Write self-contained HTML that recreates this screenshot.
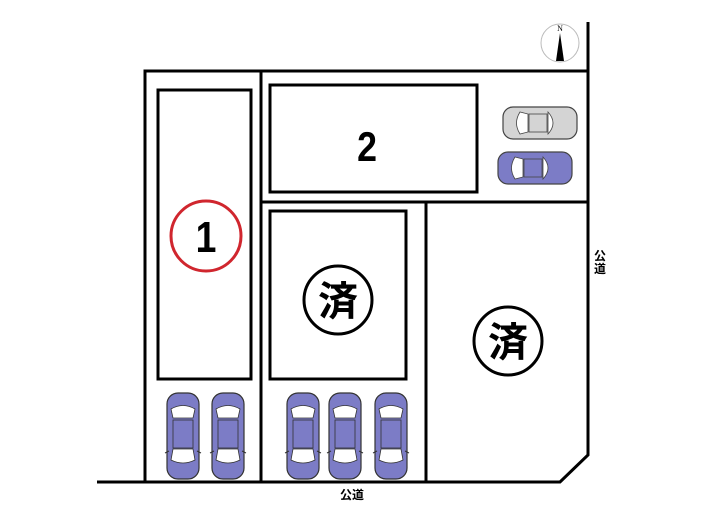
<!DOCTYPE html>
<html><head><meta charset="utf-8"><style>
html,body{margin:0;padding:0;background:#fff;width:705px;height:525px;overflow:hidden}
</style></head><body>
<svg width="705" height="525" viewBox="0 0 705 525" xmlns="http://www.w3.org/2000/svg">
<defs>
<g id="carv">
 <rect x="-16" y="-43" width="32" height="86" rx="11" fill="#7c7cc6" stroke="#333" stroke-width="1.2"/>
 <path d="M-12,-27 Q0,-34 12,-27 L10,-18 L-10,-18 Z" fill="#fff" stroke="#333" stroke-width="0.8"/>
 <rect x="-10" y="-16" width="20" height="28" fill="#7c7cc6" stroke="#333" stroke-width="0.8"/>
 <path d="M-12,24 Q0,30 12,24 L10,13 L-10,13 Z" fill="#fff" stroke="#333" stroke-width="0.8"/>
 <line x1="-18" y1="17" x2="-14" y2="15" stroke="#333"/><line x1="18" y1="17" x2="14" y2="15" stroke="#333"/>
</g>
<g id="carh">
 <rect x="-37" y="-16" width="74" height="32" rx="10" stroke="#444" stroke-width="1.2"/>
 <path d="M-20,-11 Q-27,0 -20,11 L-12,9 L-12,-9 Z" fill="#fff" stroke="#444" stroke-width="0.8"/>
 <rect x="-11" y="-9" width="18" height="18" fill="none" stroke="#444" stroke-width="0.8"/>
 <path d="M8,-11 Q18,0 8,11 L8,9 L8,-9 Z" fill="#fff" stroke="#444" stroke-width="0.8"/>
</g>
</defs>
<g fill="none" stroke="#000" stroke-width="3">
 <polyline points="97,482 560,482 588,455 588,22"/>
 <polyline points="145,482 145,71 588,71"/>
 <line x1="261" y1="71" x2="261" y2="482"/>
 <line x1="261" y1="202" x2="588" y2="202"/>
 <line x1="426" y1="202" x2="426" y2="482"/>
 <rect x="158" y="90" width="93" height="289"/>
 <rect x="270" y="85" width="207" height="107"/>
 <rect x="270" y="211" width="136" height="168"/>
</g>
<circle cx="206" cy="236" r="35" fill="none" stroke="#d0262e" stroke-width="3"/>
<text transform="translate(206,252) scale(0.85,1)" font-family="Liberation Sans, sans-serif" font-weight="bold" font-size="44" text-anchor="middle">1</text>
<text transform="translate(367,161) scale(0.85,1)" font-family="Liberation Sans, sans-serif" font-weight="bold" font-size="42" text-anchor="middle">2</text>
<circle cx="338" cy="300" r="34" fill="none" stroke="#000" stroke-width="3"/>
<text x="338" y="315" font-family="Liberation Sans, 'Noto Sans CJK JP', sans-serif" font-weight="bold" font-size="40" text-anchor="middle">済</text>
<circle cx="508" cy="341" r="34" fill="none" stroke="#000" stroke-width="3"/>
<text x="508" y="356" font-family="Liberation Sans, 'Noto Sans CJK JP', sans-serif" font-weight="bold" font-size="40" text-anchor="middle">済</text>
<use href="#carv" x="183" y="436"/>
<use href="#carv" x="228" y="436"/>
<use href="#carv" x="303" y="436"/>
<use href="#carv" x="345" y="436"/>
<use href="#carv" x="391" y="436"/>
<use href="#carh" x="540" y="123" fill="#d4d4d4"/>
<use href="#carh" x="535" y="168" fill="#7c7cc6"/>
<circle cx="560" cy="43" r="19" fill="#fff" stroke="#bbb" stroke-width="1"/>
<text x="560" y="31" font-family="Liberation Serif, serif" font-size="8" text-anchor="middle">N</text>
<polygon points="560,33 556,61 564,61" fill="#000"/>
<text x="352" y="499" font-family="Liberation Sans, 'Noto Sans CJK JP', sans-serif" font-weight="bold" font-size="12" text-anchor="middle">公道</text>
<text x="600" y="260" font-family="Liberation Sans, 'Noto Sans CJK JP', sans-serif" font-weight="bold" font-size="12" text-anchor="middle">公</text>
<text x="600" y="273" font-family="Liberation Sans, 'Noto Sans CJK JP', sans-serif" font-weight="bold" font-size="12" text-anchor="middle">道</text>
</svg>
</body></html>
